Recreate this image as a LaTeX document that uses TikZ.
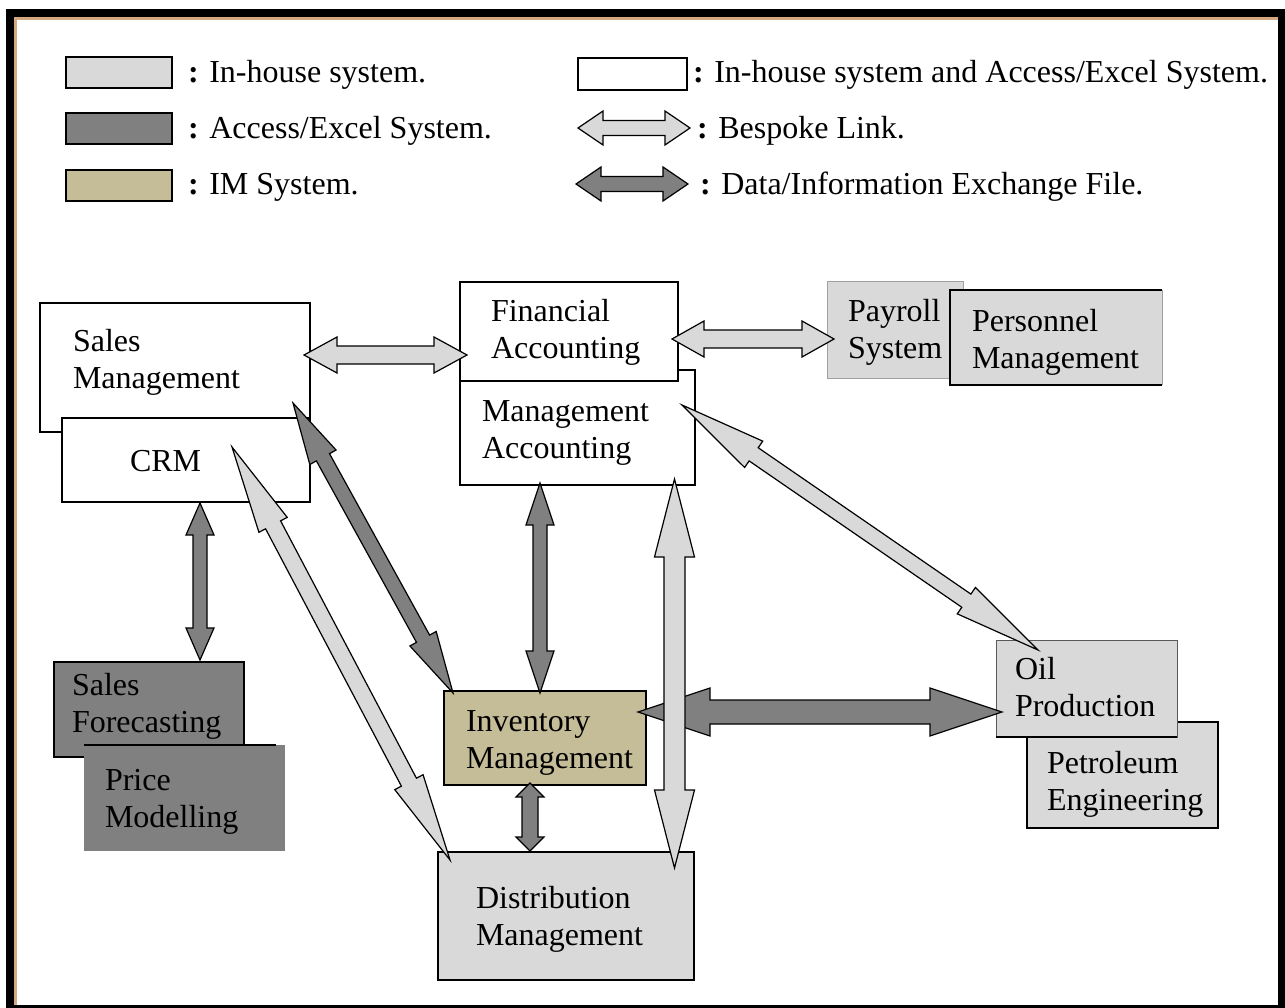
\documentclass[tikz,border=0pt]{standalone}
\usepackage{fontspec}
\setmainfont{Liberation Serif}
\usetikzlibrary{calc}

\definecolor{lgray}{RGB}{217,217,217}
\definecolor{dgray}{RGB}{128,128,128}
\definecolor{imtan}{RGB}{196,189,151}
\definecolor{frametan}{RGB}{212,168,128}

\newcommand\fs{\fontsize{32}{37.5}\selectfont}

% block double arrow between two named coordinates
% #1 start, #2 end, #3 shaft half width, #4 head half width, #5 head length, #6 style
\newcommand\blockarr[6]{%
  \draw[#6] (#1)
    -- ($(#1)!#5!(#2)!#4!90:(#2)$)
    -- ($(#1)!#5!(#2)!#3!90:(#2)$)
    -- ($(#2)!#5!(#1)!#3!-90:(#1)$)
    -- ($(#2)!#5!(#1)!#4!-90:(#1)$)
    -- (#2)
    -- ($(#2)!#5!(#1)!#4!90:(#1)$)
    -- ($(#2)!#5!(#1)!#3!90:(#1)$)
    -- ($(#1)!#5!(#2)!#3!-90:(#2)$)
    -- ($(#1)!#5!(#2)!#4!-90:(#2)$)
    -- cycle;}

\tikzset{
  box/.style={anchor=north west, inner sep=0pt, outer sep=0pt, line width=1.3pt, draw=black},
  txt/.style={anchor=north west, inner sep=0pt, outer sep=0pt, align=left, font=\fs},
  leg/.style={anchor=base west, inner sep=0pt, outer sep=0pt, font=\fs},
  legbox/.style={anchor=north west, inner sep=0pt, outer sep=0pt, line width=1.2pt, draw=black,
                 minimum width=106pt, minimum height=31pt},
  light/.style={fill=lgray, draw=black, line width=1.2pt, line join=miter},
  dark/.style={fill=dgray, draw=black, line width=1.2pt, line join=miter},
}

\begin{document}
\begin{tikzpicture}[x=1pt,y=-1pt]
\useasboundingbox (0,0) rectangle (1285,1008);

% page frame
\fill[black] (6,9) rectangle (1285,1008);
\fill[white] (14,17) rectangle (1278,1005);
\fill[frametan] (14,17) rectangle (1278,20);
\fill[frametan] (14,17) rectangle (17,1005);

\def\sh{26.25}

% ---------- legend ----------
\node[legbox, fill=lgray] (kin) at (66,57) {};
\node[leg] (kinT) at (188,83) {\textbf{:} In-house system.};
\node[legbox, fill=dgray] (kae) at (66,113) {};
\node[leg] (kaeT) at (188,139) {\textbf{:} Access/Excel System.};
\node[legbox, fill=imtan] (kim) at (66,170) {};
\node[leg] (kimT) at (188,195) {\textbf{:} IM System.};

\node[legbox, fill=white, minimum width=109pt, minimum height=32pt] (kboth) at (578,58) {};
\node[leg] (kbothT) at (693,83) {\textbf{:} In-house system and Access/Excel System.};

\coordinate (kl1) at (578,128);
\coordinate (kl2) at (690,128);
\blockarr{kl1}{kl2}{7.5pt}{17pt}{25pt}{light}
\node[leg] (klT) at (697,139) {\textbf{:} Bespoke Link.};

\coordinate (kd1) at (576,184);
\coordinate (kd2) at (688,184);
\blockarr{kd1}{kd2}{7.5pt}{17pt}{25pt}{dark}
\node[leg] (kdT) at (700,195) {\textbf{:} Data/Information Exchange File.};

% ---------- systems ----------
\node[box, fill=white, minimum width=270pt, minimum height=129pt] (sales) at (40,303) {};
\node[txt] (salesT) at (73,351-\sh) {\strut Sales\\Management};
\node[box, fill=white, minimum width=248pt, minimum height=84pt] (crm) at (62,418) {};
\node[txt] (crmT) at (130,471-\sh) {\strut CRM};

\node[box, fill=white, minimum width=235pt, minimum height=115pt] (mgmt) at (460,370) {};
\node[txt] (mgmtT) at (482,421-\sh) {\strut Management\\Accounting};
\node[box, fill=white, minimum width=218pt, minimum height=99pt] (fin) at (460,282) {};
\node[txt] (finT) at (491,321-\sh) {\strut Financial\\Accounting};

\node[box, fill=lgray, draw={rgb,255:red,160;green,160;blue,160}, line width=0.8pt,
      minimum width=136pt, minimum height=97pt] (pay) at (827,281) {};
\node[txt] (payT) at (848,321-\sh) {\strut Payroll\\System};
\node[box, fill=lgray, draw=none, minimum width=212pt, minimum height=95pt] (pers) at (950,290) {};
\draw[line width=0.8pt, draw={rgb,255:red,160;green,160;blue,160}] (pers.north east) -- (pers.south east);
\draw[line width=1.3pt] (pers.north east) -- (pers.north west) -- (pers.south west) -- (pers.south east);
\node[txt] (persT) at (972,331-\sh) {\strut Personnel\\Management};

\node[box, fill=lgray, minimum width=191pt, minimum height=106pt] (petro) at (1027,722) {};
\node[txt] (petroT) at (1047,773-\sh) {\strut Petroleum\\Engineering};
\node[box, fill=lgray, draw=black!65, line width=1pt, minimum width=181pt, minimum height=97pt] (oil) at (996,640) {};
\draw[line width=1.3pt] (oil.south west) -- (oil.south east);
\node[txt] (oilT) at (1015,679-\sh) {\strut Oil\\Production};

\node[box, fill=dgray, minimum width=190pt, minimum height=95pt] (fore) at (54,662) {};
\node[txt] (foreT) at (72,695-\sh) {\strut Sales\\Forecasting};
\node[box, fill=dgray, draw=none, minimum width=201pt, minimum height=106pt] (price) at (84,745) {};
\draw[line width=1.3pt] (price.north west) -- ($(price.north east)+(-9,0)$);
\node[txt] (priceT) at (105,790-\sh) {\strut Price\\Modelling};

\node[box, fill=imtan, minimum width=202pt, minimum height=94pt] (inv) at (444,691) {};
\node[txt] (invT) at (466,731-\sh) {\strut Inventory\\Management};

\node[box, fill=lgray, minimum width=256pt, minimum height=128pt] (dist) at (438,852) {};
\node[txt] (distT) at (476,908-\sh) {\strut Distribution\\Management};

% ---------- links ----------
% Data/information exchange files
\coordinate (d1a) at ($(sales.north east)+(-17,100)$);
\coordinate (d1b) at ($(inv.north west)+(9,2)$);
\blockarr{d1a}{d1b}{7.5pt}{15pt}{62pt}{dark}

\coordinate (d2a) at ($(crm.south west)+(138,1)$);
\coordinate (d2b) at ($(fore.north west)+(146,-2)$);
\blockarr{d2a}{d2b}{7pt}{14pt}{32pt}{dark}

\coordinate (d3a) at ($(mgmt.south west)+(80,-2)$);
\coordinate (d3b) at ($(inv.north west)+(96,2)$);
\blockarr{d3a}{d3b}{7pt}{14pt}{42pt}{dark}

\coordinate (d4a) at ($(inv.north east)+(-8,21)$);
\coordinate (d4b) at ($(oil.north west)+(6,72)$);
\blockarr{d4a}{d4b}{12pt}{24pt}{72pt}{dark}

\coordinate (d5a) at ($(inv.south west)+(86,-2)$);
\coordinate (d5b) at ($(dist.north west)+(92,-1)$);
\blockarr{d5a}{d5b}{8pt}{14pt}{14pt}{dark}

% Bespoke links
\coordinate (l1a) at ($(sales.north east)+(-6,52)$);
\coordinate (l1b) at ($(fin.north west)+(7,73)$);
\blockarr{l1a}{l1b}{9pt}{18pt}{33pt}{light}

\coordinate (l2a) at ($(fin.north east)+(-6,57)$);
\coordinate (l2b) at ($(pay.north west)+(7,58)$);
\blockarr{l2a}{l2b}{9pt}{18pt}{32pt}{light}

\coordinate (l3a) at ($(crm.north west)+(170,29)$);
\coordinate (l3b) at ($(dist.north west)+(12,8)$);
\blockarr{l3a}{l3b}{8.5pt}{16pt}{88pt}{light}

\coordinate (l4a) at ($(mgmt.south east)+(-20.5,-6)$);
\coordinate (l4b) at ($(dist.north east)+(-19.5,16)$);
\blockarr{l4a}{l4b}{10.5pt}{20pt}{78pt}{light}

\coordinate (l5a) at ($(mgmt.north east)+(-13,35)$);
\coordinate (l5b) at ($(oil.north west)+(42,10)$);
\blockarr{l5a}{l5b}{8pt}{16pt}{87pt}{light}

\end{tikzpicture}
\end{document}
